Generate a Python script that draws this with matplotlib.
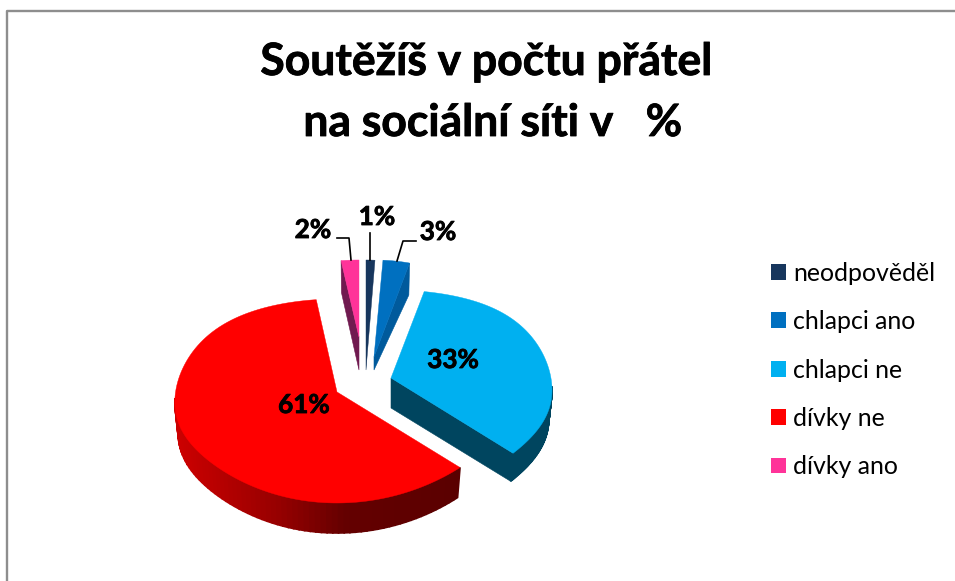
import numpy as np
import matplotlib
matplotlib.use("Agg")
import matplotlib.pyplot as plt
import matplotlib.patheffects as pe
from matplotlib.patches import Patch
from matplotlib.lines import Line2D

categories = ["neodpověděl", "chlapci ano", "chlapci ne", "dívky ne", "dívky ano"]
values = [1, 3, 33, 61, 2]
title_lines = ["Soutěžíš v počtu přátel", "na sociální síti v   %"]

colors = ["#17365d", "#0070c0", "#00b0f0", "#ff0000", "#ff3399"]
side_colors = ["#10294a", "#005a9c", "#00455f", "#5a0000", "#701a50"]

# per-slice projected geometry (pixels)
apex_x = [366, 374, 391, 337, 359]
apex_y = [370, 357, 378, 392, 337]
rx = [143, 143, 161, 166, 143]
ry_far = [110, 97, 88, 93, 77]
ry_near = [110, 97, 117, 111, 77]
rot = [0, 0, -2.5, 0, 0]
skew = [0, 0, 0, 0.023, 0]
tilt = [0, 0, 12, 10, 0]
rim_depth = [32, 32, 28, 30, 32]
apex_depth = [0, 13, 30, 30, 33]
cut_start = [False, False, False, False, True]
cut_end = [False, True, True, False, False]

plt.rcParams["font.family"] = ["Lato", "DejaVu Sans"]
fig = plt.figure(figsize=(9.55, 5.81), dpi=100)
ax = fig.add_axes([0, 0, 1, 1])
ax.set_xlim(0, 955)
ax.set_ylim(581, 0)
ax.axis("off")

ax.add_line(Line2D([7, 7, 955], [581, 11, 11], color="#8e8e8e", lw=1.7, zorder=1))


def rim(i, t, low=False):
    t = np.radians(t)
    s, c = np.sin(t), np.cos(t)
    ry = ry_near[i] + (ry_far[i] - ry_near[i]) * (1 + c) / 2
    dx = rx[i] * s * (1 + skew[i] * s)
    y = apex_y[i] - ry * c + tilt[i] * s ** 6
    if low:
        return apex_x[i] + 0.98 * dx, y + rim_depth[i]
    return apex_x[i] + dx, y


def shade(i, x):
    if i != 3:
        return side_colors[i]
    r = np.interp(x, [175, 277, 343, 460], [205, 150, 100, 90]) / 255
    return (r, 0, 0)


edges = np.cumsum([0] + values) * 3.6
for i in range(len(values)):
    t0, t1 = edges[i] + rot[i], edges[i + 1] + rot[i]
    apex = (apex_x[i], apex_y[i])
    apex_low = (apex_x[i], apex_y[i] + apex_depth[i])
    for flag, t in ((cut_start[i], t0), (cut_end[i], t1)):
        if flag:
            ax.fill(*zip(apex, rim(i, t), rim(i, t, True), apex_low),
                    color=side_colors[i], lw=0.4, zorder=2)
    a, b = max(t0, 88), min(t1, 272)
    if b > a and values[i] > 5:
        ts = np.linspace(a, b, 70)
        if i == 3:
            ts = ts[::-1]  # paint so each strip overlaps the previous one
        for u, v in zip(ts[:-1], ts[1:]):
            ax.fill(*zip(rim(i, u), rim(i, v), rim(i, v, True), rim(i, u, True)),
                    color=shade(i, rim(i, u)[0]), lw=1.2, zorder=2)
    ts = np.linspace(t0, t1, 120)
    pts = [apex] + [rim(i, t) for t in ts]
    ax.fill(*zip(*pts), color=colors[i], lw=0.3, zorder=3)

heavier = [pe.withStroke(linewidth=0.6, foreground="black")]

# title
for line, x, y in zip(title_lines, [486.5, 493], [62, 123]):
    ax.text(x, y, line, ha="center", va="center", fontsize=32, fontweight="bold",
            color="black", zorder=5, path_effects=heavier)

# data labels
label_x = [377, 438, 453, 304, 313]
label_y = [217, 232, 360, 405, 230]
for v, x, y in zip(values, label_x, label_y):
    ax.text(x, y, f"{v}%", ha="center", va="center", fontsize=18.8, fontweight="bold",
            color="black", zorder=5, path_effects=heavier)

# leader lines
for xs, ys in (([337, 349, 351], [238, 238, 260]),
               ([370, 370], [233, 260]),
               ([416, 403, 397], [241, 241, 261])):
    ax.add_line(Line2D(xs, ys, color="black", lw=1.2, zorder=4))

handles = [Patch(facecolor=c, edgecolor="none") for c in colors]
fs = 17.9
ax.legend(handles, categories, loc="center left", bbox_to_anchor=(771 / 955, 1 - 370 / 581),
          bbox_transform=fig.transFigure, frameon=False, fontsize=fs, borderpad=0, borderaxespad=0,
          handlelength=10.8 / fs, handleheight=10.8 / fs, handletextpad=5 / fs,
          labelspacing=(36.2 - fs) / fs, labelcolor="black")

fig.savefig("out.png", dpi=100)
